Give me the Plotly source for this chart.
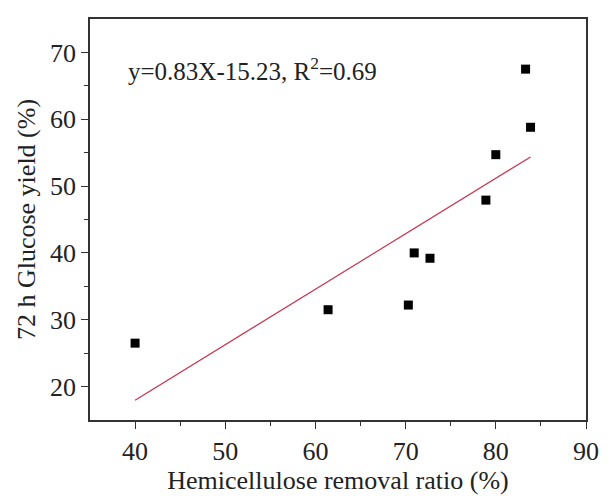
import plotly.graph_objects as go
import numpy as np

removal = [40.0, 61.4, 70.3, 70.95, 72.7, 78.9, 80.0, 83.3, 83.85]
glucose = [26.5, 31.5, 32.2, 40.0, 39.2, 47.9, 54.7, 67.5, 58.8]
slope = 0.83
intercept = -15.23
fit_label = "y=0.83X-15.23, R<sup>2</sup>=0.69"
x_ticks = [40, 50, 60, 70, 80, 90]
y_ticks = [20, 30, 40, 50, 60, 70]

fx = np.array([min(removal), max(removal)])
fy = slope * fx + intercept

family = "Liberation Serif, Times New Roman, serif"
tick_font = dict(family=family, size=26, color="#222")
title_font = dict(family=family, size=26, color="#222")
ann_font = dict(family=family, size=25, color="#222")

fig = go.Figure()
fig.add_trace(go.Scatter(x=fx, y=fy, mode="lines",
                         line=dict(color="#c8324f", width=1.2), showlegend=False))
fig.add_trace(go.Scatter(x=removal, y=glucose, mode="markers",
                         marker=dict(symbol="square", size=9, color="black"),
                         showlegend=False))

axis_common = dict(showline=True, linecolor="#333", linewidth=1.5, mirror=True,
                   ticks="outside", ticklen=7, tickwidth=1.2, tickcolor="#333",
                   showgrid=False, zeroline=False, tickfont=tick_font)
fig.update_xaxes(range=[35, 90], tickvals=x_ticks,
                 minor=dict(ticks="outside", ticklen=4, tickwidth=1.2, tickcolor="#333",
                            tickvals=[45, 55, 65, 75, 85]),
                 title=dict(text="Hemicellulose removal ratio (%)", font=title_font, standoff=6),
                 **axis_common)
fig.update_yaxes(range=[15, 75], tickvals=y_ticks,
                 minor=dict(ticks="outside", ticklen=4, tickwidth=1.2, tickcolor="#333",
                            tickvals=[25, 35, 45, 55, 65]),
                 title=dict(text="72 h Glucose yield (%)", font=title_font, standoff=7),
                 **axis_common)

fig.add_annotation(x=0.073, y=0.875, xref="paper", yref="paper", text=fit_label,
                   showarrow=False, xanchor="left", yanchor="middle", font=ann_font)

fig.update_layout(width=611, height=502, margin=dict(l=90, r=14, t=19, b=76),
                  plot_bgcolor="white", paper_bgcolor="white")
fig.write_html("out.html", config={"displayModeBar": False},
               post_script="document.body.style.margin='0';document.body.style.overflow='hidden';")
